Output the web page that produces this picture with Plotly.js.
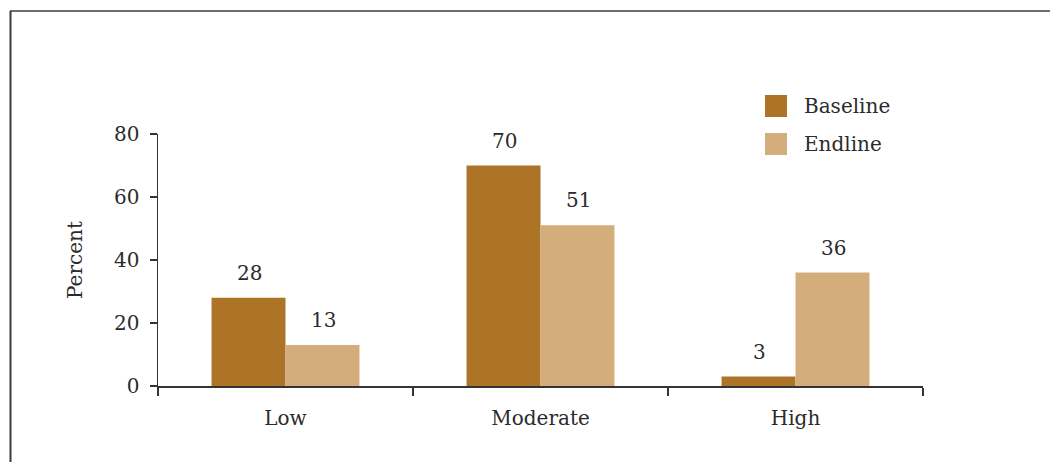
<!DOCTYPE html>
<html>
<head>
<meta charset="utf-8">
<script src="https://cdn.plot.ly/plotly-3.0.1.min.js"></script>
<style>
  html, body { margin: 0; padding: 0; background: #fff; }
  #chart { width: 1050px; height: 462px; }
</style>
</head>
<body>
<div id="chart"></div>
<script>
// Share of respondents by level, baseline vs endline survey
const categories = ['Low', 'Moderate', 'High'];
const baseline = [28, 70, 3];
const endline = [13, 51, 36];
const seriesNames = ['Baseline', 'Endline'];
const yTicks = [0, 20, 40, 60, 80];

const colors = ['#AD7326', '#D4AD7C'];
const FONT = 'DejaVu Serif, Liberation Serif, serif';
const TEXT = '#2b2b2b';

// Plot area in page pixels, used to place the frame and legend in paper units
const L = 158, R = 923, T = 134, B = 386;
const px = v => (v - L) / (R - L);
const py = v => (B - v) / (B - T);

const traces = [baseline, endline].map((vals, i) => ({
  type: 'bar',
  name: seriesNames[i],
  x: categories,
  y: vals,
  marker: { color: colors[i], line: { width: 0 } },
  showlegend: false,
  hoverinfo: 'x+y+name'
}));

// Value labels above each bar
const annotations = [];
[baseline, endline].forEach((vals, i) => {
  vals.forEach((v, j) => {
    annotations.push({
      x: categories[j], y: v, xref: 'x', yref: 'y',
      xshift: i === 0 ? -36 : 38, yshift: 25,
      text: String(v), showarrow: false,
      xanchor: 'center', yanchor: 'middle',
      font: { family: FONT, size: 20, color: TEXT }
    });
  });
});

// Legend entries
const shapes = [];
const legendRows = [106, 144];
seriesNames.forEach((name, i) => {
  const cy = legendRows[i];
  shapes.push({
    type: 'rect', xref: 'paper', yref: 'paper',
    x0: px(765), x1: px(787), y0: py(cy + 11), y1: py(cy - 11),
    fillcolor: colors[i], line: { width: 0 }
  });
  annotations.push({
    xref: 'paper', yref: 'paper', x: px(802), y: py(cy),
    text: name, showarrow: false, xanchor: 'left', yanchor: 'middle',
    font: { family: FONT, size: 20, color: TEXT }
  });
});

// Outer frame (top and left edges)
shapes.push({
  type: 'line', xref: 'paper', yref: 'paper',
  x0: px(10), x1: px(1060), y0: py(11), y1: py(11),
  line: { color: '#6e6e6e', width: 2 }
});
shapes.push({
  type: 'line', xref: 'paper', yref: 'paper',
  x0: px(10.5), x1: px(10.5), y0: py(11), y1: py(470),
  line: { color: '#3a3a3a', width: 2 }
});

const layout = {
  width: 1050, height: 462,
  margin: { l: L, r: 1050 - R, t: T, b: 462 - B, pad: 0 },
  paper_bgcolor: '#ffffff', plot_bgcolor: '#ffffff',
  font: { family: FONT, size: 20, color: TEXT },
  barmode: 'group', bargap: 0.42, bargroupgap: 0,
  showlegend: false,
  xaxis: {
    type: 'category',
    showline: true, linecolor: '#333', linewidth: 1.5,
    ticks: 'outside', tickson: 'boundaries', ticklen: 8, tickcolor: '#333', tickwidth: 1.5,
    showgrid: false, zeroline: false,
    tickfont: { family: FONT, size: 20, color: TEXT },
    ticklabelstandoff: 13
  },
  yaxis: {
    range: [0, 80], tickvals: yTicks, ticktext: yTicks.map(String),
    showline: true, linecolor: '#333', linewidth: 1.5,
    ticks: 'outside', ticklen: 7, tickcolor: '#333', tickwidth: 1.5,
    showgrid: false, zeroline: false,
    tickfont: { family: FONT, size: 20, color: TEXT },
    ticklabelstandoff: 6,
    title: { text: 'Percent', standoff: 26, font: { family: FONT, size: 20, color: TEXT } }
  },
  shapes: shapes,
  annotations: annotations
};

Plotly.newPlot('chart', traces, layout, { displayModeBar: false, staticPlot: true });
</script>
</body>
</html>
